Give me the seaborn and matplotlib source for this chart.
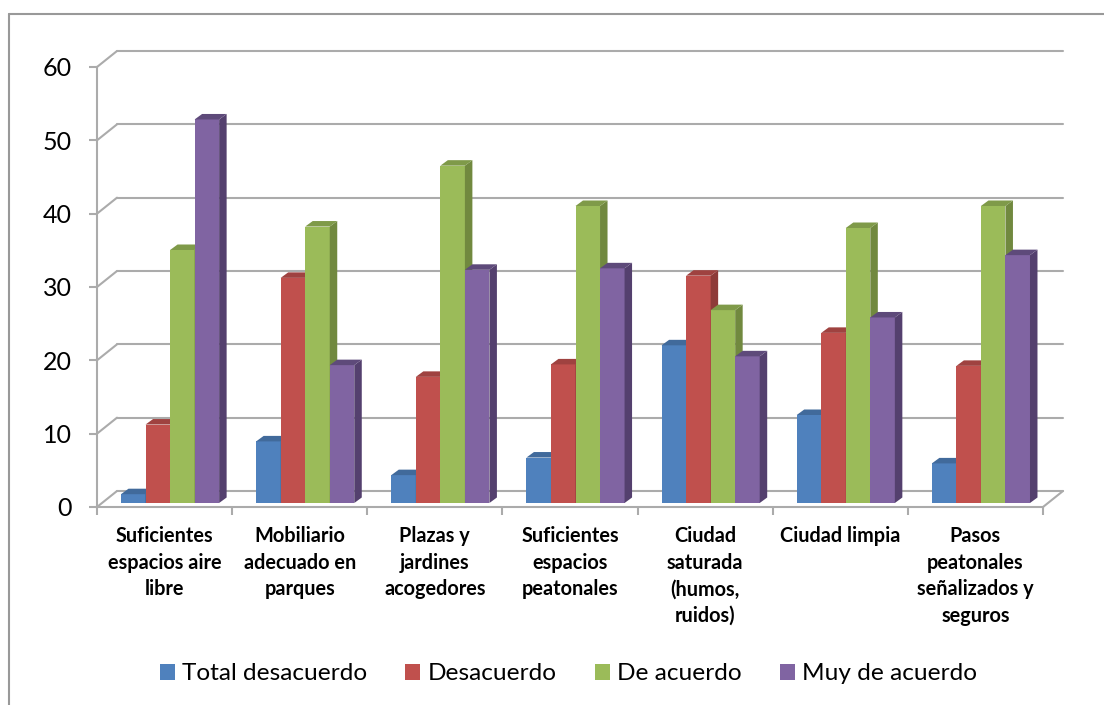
import numpy as np
import pandas as pd
import seaborn as sns
import matplotlib.pyplot as plt
from matplotlib.lines import Line2D
from matplotlib.patches import Polygon

categories = ['Suficientes\nespacios aire\nlibre', 'Mobiliario\nadecuado en\nparques', 'Plazas y\njardines\nacogedores',
              'Suficientes\nespacios\npeatonales', 'Ciudad\nsaturada\n(humos,\nruidos)', 'Ciudad limpia',
              'Pasos\npeatonales\nseñalizados y\nseguros']
total_desacuerdo = [1.2, 8.4, 3.8, 6.2, 21.5, 12.0, 5.4]
desacuerdo = [10.7, 30.7, 17.2, 18.9, 31.0, 23.2, 18.7]
de_acuerdo = [34.5, 37.7, 46.0, 40.5, 26.3, 37.5, 40.5]
muy_de_acuerdo = [52.3, 18.8, 31.8, 32.0, 20.0, 25.3, 33.8]
series_names = ['Total desacuerdo', 'Desacuerdo', 'De acuerdo', 'Muy de acuerdo']
y_ticks = [0, 10, 20, 30, 40, 50, 60]

colors = ['#4F81BD', '#C0504D', '#9BBB59', '#8064A2']
side_colors = ['#3A5F8C', '#8E3B39', '#71893F', '#54406E']
top_colors = ['#416A9B', '#9F4240', '#7F9A49', '#5E4A7A']
grid_color = '#ABABAB'

df = pd.DataFrame({
    'categoria': categories * 4,
    'serie': np.repeat(series_names, len(categories)),
    'valor': total_desacuerdo + desacuerdo + de_acuerdo + muy_de_acuerdo,
})

sns.set_theme(style='white')
plt.rcParams['font.family'] = ['Lato', 'DejaVu Sans']

fig = plt.figure(figsize=(11.04, 7.05), dpi=100)
ax = fig.add_axes([97 / 1104, (705 - 507) / 705, 946 / 1104, 440 / 705])
sns.barplot(data=df, x='categoria', y='valor', hue='serie', hue_order=series_names,
            palette=colors, width=0.726, gap=0, saturation=1, linewidth=0, ax=ax)
ax.set_xlim(-0.5, 6.5)
ax.set_ylim(0, 60)

# data units per pixel, the 3D look is built from these
px = 7 / 946
py = 60 / 440

# back wall
back_dx, back_dy = 20 * px, 16 * py
for val in y_ticks:
    ax.plot([-0.5 + back_dx, 6.5 + back_dx], [val + back_dy, val + back_dy], color=grid_color, lw=1.5, clip_on=False, zorder=1)
    ax.plot([-0.5, -0.5 + back_dx], [val, val + back_dy], color=grid_color, lw=1.5, clip_on=False, zorder=1)
ax.plot([6.5, 6.5 + back_dx], [0, back_dy], color=grid_color, lw=1.5, clip_on=False, zorder=1)

# shift the bars onto the floor and add side and top faces
depth_x, depth_y = 7.5 * px, 5.5 * py
for s, container in enumerate(ax.containers):
    for bar in container:
        bar.set_x(bar.get_x() + 5.5 * px)
        bar.set_y(4 * py)
        bar.set_linewidth(0)
        x0, x1 = bar.get_x(), bar.get_x() + bar.get_width()
        y0, y1 = bar.get_y(), bar.get_y() + bar.get_height()
        z = 3 + s + 10 * round(x0)
        bar.set_zorder(z)
        bar.set_clip_on(False)
        ax.add_patch(Polygon([(x1, y0), (x1 + depth_x, y0 + depth_y), (x1 + depth_x, y1 + depth_y), (x1, y1)],
                             fc=side_colors[s], ec='none', zorder=z, clip_on=False))
        ax.add_patch(Polygon([(x0, y1), (x0 + depth_x, y1 + depth_y), (x1 + depth_x, y1 + depth_y), (x1, y1)],
                             fc=top_colors[s], ec='none', zorder=z, clip_on=False))

for side in ['top', 'right']:
    ax.spines[side].set_visible(False)
for side in ['left', 'bottom']:
    ax.spines[side].set_color(grid_color)
    ax.spines[side].set_linewidth(1.5)
    ax.spines[side].set_zorder(2)

ax.set_xlabel('')
ax.set_ylabel('')
ax.set_yticks(y_ticks)
ax.tick_params(axis='y', length=6, width=1.5, color=grid_color, labelsize=18, labelcolor='black', pad=12, left=True)
ax.set_xticks(np.arange(-0.5, 7, 1), minor=True)
ax.tick_params(axis='x', which='minor', length=6, width=1.5, color=grid_color, bottom=True)
ax.tick_params(axis='x', which='major', length=0, pad=14, labelsize=14.3, labelcolor='black')
for label in ax.get_xticklabels():
    label.set_fontweight('bold')
    label.set_linespacing(1.4)
    label.set_verticalalignment('top')

handles, labels = ax.get_legend_handles_labels()
ax.legend(handles, labels, ncol=4, loc='center', bbox_to_anchor=(568.5 / 1104, (705 - 674) / 705),
          bbox_transform=fig.transFigure, frameon=False, fontsize=17.6, handlelength=0.62, handleheight=0.62,
          handletextpad=0.3, columnspacing=1.55, labelcolor='black')

# chart border, only top and left show in the picture
border_x = 8.5 / 1104
border_y = (705 - 13.5) / 705
fig.add_artist(Line2D([border_x, 1], [border_y, border_y], color='#999999', lw=1.5))
fig.add_artist(Line2D([border_x, border_x], [0, border_y], color='#999999', lw=1.5))

fig.savefig('out.png', dpi=100)
